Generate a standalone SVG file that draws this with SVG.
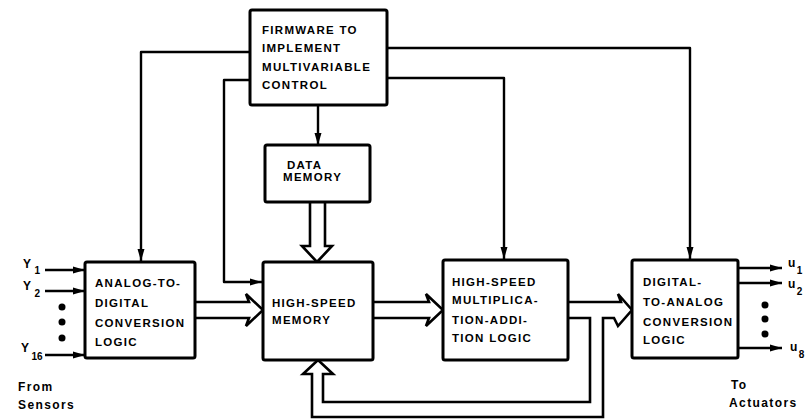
<svg xmlns="http://www.w3.org/2000/svg" width="812" height="420" viewBox="0 0 812 420">
<style>
.box{fill:#fff;stroke:#000;stroke-width:3;}
.ln{fill:none;stroke:#000;stroke-width:2.4;stroke-linejoin:round;}
.bus{fill:#fff;stroke:#000;stroke-width:2.6;stroke-linejoin:miter;}
.t{font-family:"Liberation Sans",Arial,sans-serif;font-weight:bold;font-size:11.5px;letter-spacing:1.3px;fill:#000;}
.s{font-family:"Liberation Sans",Arial,sans-serif;font-weight:bold;font-size:12px;letter-spacing:1.4px;fill:#000;}
.sub{font-size:10px;letter-spacing:0;}
</style>
<defs>
<marker id="ah" viewBox="0 0 12 8" refX="12" refY="4" markerWidth="12" markerHeight="8" markerUnits="userSpaceOnUse" orient="auto">
<path d="M0,0.5 L12,4 L0,7.5 Z" fill="#000"/>
</marker>
</defs>
<rect width="812" height="420" fill="#fff"/>

<g id="connectors">
<path class="ln" d="M250,52 H141 V261" marker-end="url(#ah)"/>
<path class="ln" d="M250,80 H224 V282 H262" marker-end="url(#ah)"/>
<path class="ln" d="M387,48 H690 V259" marker-end="url(#ah)"/>
<path class="ln" d="M387,78 H504 V259" marker-end="url(#ah)"/>
<path class="ln" d="M318,105 V145" marker-end="url(#ah)"/>
<path class="ln" d="M45,270 H85" marker-end="url(#ah)"/>
<path class="ln" d="M45,291 H85" marker-end="url(#ah)"/>
<path class="ln" d="M45,355 H85" marker-end="url(#ah)"/>
<path class="ln" d="M738,268 H782" marker-end="url(#ah)"/>
<path class="ln" d="M738,283 H782" marker-end="url(#ah)"/>
<path class="ln" d="M738,348 H782" marker-end="url(#ah)"/>
<path class="bus" d="M195,302 H249 L246,294 L263,310 L246,326 L249,318 H195"/>
<path class="bus" d="M373,302 H429 L426,294 L443,310 L426,326 L429,318 H373"/>
<path class="bus" d="M310,202 V246 H302 L317,262 L332,246 H325 V202"/>
<path class="bus" d="M568,302 H621 L618,294 L632,310 L618,326 L614,318 H603 V417 H312 V374 H303 L318,360 L333,374 H323 V402 H590 V318 H568"/>
</g>

<g id="firmware">
<rect class="box" x="250" y="10" width="137" height="95" rx="2"/>
<text class="t" x="262" y="34">FIRMWARE TO</text>
<text class="t" x="262" y="52">IMPLEMENT</text>
<text class="t" x="262" y="71">MULTIVARIABLE</text>
<text class="t" x="262" y="89">CONTROL</text>
</g>

<g id="data-memory">
<rect class="box" x="265" y="145" width="105" height="57" rx="2"/>
<text class="t" x="287" y="169">DATA</text>
<text class="t" x="283" y="181">MEMORY</text>
</g>

<g id="ad">
<rect class="box" x="85" y="262" width="110" height="96" rx="2"/>
<text class="t" x="95" y="287">ANALOG-TO-</text>
<text class="t" x="95" y="307">DIGITAL</text>
<text class="t" x="95" y="327">CONVERSION</text>
<text class="t" x="95" y="346">LOGIC</text>
</g>

<g id="hsm">
<rect class="box" x="263" y="262" width="110" height="98" rx="2"/>
<text class="t" x="272" y="307">HIGH-SPEED</text>
<text class="t" x="272" y="324">MEMORY</text>
</g>

<g id="mal">
<rect class="box" x="443" y="260" width="125" height="100" rx="2"/>
<text class="t" x="452" y="286">HIGH-SPEED</text>
<text class="t" x="452" y="304">MULTIPLICA-</text>
<text class="t" x="452" y="324">TION-ADDI-</text>
<text class="t" x="452" y="342">TION LOGIC</text>
</g>

<g id="da">
<rect class="box" x="632" y="260" width="106" height="98" rx="2"/>
<text class="t" x="643" y="286">DIGITAL-</text>
<text class="t" x="643" y="306">TO-ANALOG</text>
<text class="t" x="643" y="326">CONVERSION</text>
<text class="t" x="643" y="344">LOGIC</text>
</g>

<g id="inputs">
<text class="s" x="23" y="268">Y<tspan class="sub" dx="2" dy="6">1</tspan></text>
<text class="s" x="23" y="290">Y<tspan class="sub" dx="2" dy="7">2</tspan></text>
<text class="s" x="21" y="352">Y<tspan class="sub" dx="1" dy="8">16</tspan></text>
<circle cx="62" cy="307" r="3.5"/>
<circle cx="62" cy="322" r="3.5"/>
<circle cx="62" cy="338" r="3.5"/>
<text class="s" x="18" y="391">From</text>
<text class="s" x="18" y="409">Sensors</text>
</g>

<g id="outputs">
<text class="s" x="788" y="267">u<tspan class="sub" dx="0" dy="7">1</tspan></text>
<text class="s" x="788" y="288">u<tspan class="sub" dx="0" dy="7">2</tspan></text>
<text class="s" x="790" y="351">u<tspan class="sub" dx="0" dy="7">8</tspan></text>
<circle cx="765" cy="305" r="3.5"/>
<circle cx="765" cy="319" r="3.5"/>
<circle cx="765" cy="334" r="3.5"/>
<text class="s" x="731" y="389">To</text>
<text class="s" x="729" y="407">Actuators</text>
</g>
</svg>
